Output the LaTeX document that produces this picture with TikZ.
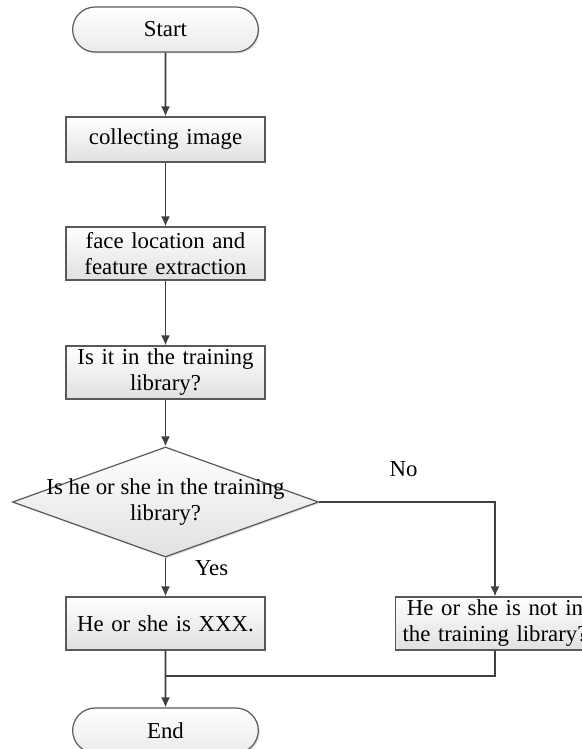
\documentclass[tikz,border=0pt]{standalone}
\usepackage{fontspec}
\setmainfont{Liberation Serif}
\usetikzlibrary{arrows.meta,positioning,shapes.geometric,shapes.misc,shadows,calc}
\tikzset{
    %Define standard arrow tip
    >={Latex[length=5pt,width=4.5pt]},
    %Define style for boxes
    box/.style={
           rectangle,
           draw=black!65, line width=0.6pt,
           top color=white, bottom color=black!12,
           drop shadow={shadow xshift=0.7pt, shadow yshift=-0.7pt, fill=black!25},
           text width=96pt,
           minimum width=99.5pt,
           minimum height=26.5pt,
           inner xsep=1pt, inner ysep=0.5pt,
           align=center},
    terminal/.style={
           rounded rectangle,
           draw=black!65, line width=0.6pt,
           top color=white, bottom color=black!8,
           drop shadow={shadow xshift=0.7pt, shadow yshift=-0.7pt, fill=black!25},
           minimum width=99.5pt,
           minimum height=22.5pt},
    decision/.style={
           diamond,
           draw=black!65, line width=0.6pt,
           top color=white, bottom color=black!12,
           drop shadow={shadow xshift=0.7pt, shadow yshift=-0.7pt, fill=black!25},
           inner sep=0pt,
           minimum width=153pt,
           minimum height=55pt},
    % Define arrow style
    flow/.style={
           ->,
           draw=black!75,
           line width=0.85pt},
    link/.style={
           draw=black!75,
           line width=0.85pt}
}

\begin{document}
\begin{tikzpicture}[font=\fontsize{11.4}{13}\selectfont, on grid]
 %page
    \path[use as bounding box, fill=white] (-82.75pt,14.75pt) rectangle (208.25pt,-359.75pt);
 %nodes
    \node[terminal] (start) at (0,0) {Start};
    \node[box, minimum height=22.5pt, below=55pt of start] (collect) {collecting image};
    \node[box, below=57pt of collect] (locate) {face location and\\feature extraction};
    \node[box, below=59.5pt of locate] (train) {Is it in the training\\library?};
    \node[decision, below=64.75pt of train,
          label={[align=center]center:Is he or she in the training\\library?}] (check) {};
    \node[box, below=60.75pt of check] (known) {He or she is XXX.};
    \node[box, right=164.75pt of known] (unknown) {He or she is not in\\the training library?};
    \node[terminal, below=53.5pt of known] (finish) {End};
    \coordinate (join) at ($(known.south)!0.45!(finish.north)$);
 %edges
    \draw[flow] (start) -- (collect);
    \draw[flow] (collect) -- (locate);
    \draw[flow] (locate) -- (train);
    \draw[flow] (train) -- (check);
    \draw[flow] (check) -- node[pos=0.28, anchor=west, xshift=11pt] {Yes} (known);
    \draw[flow] (check.east) -| node[pos=0.24, anchor=south, yshift=9pt] {No} (unknown);
    \draw[flow] (known) -- (finish);
    \draw[link] (unknown) |- (join);
\end{tikzpicture}
\end{document}
